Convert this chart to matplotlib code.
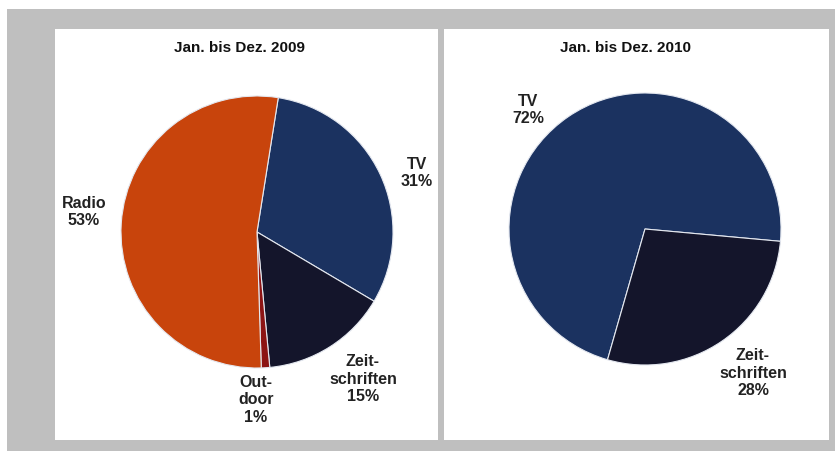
import matplotlib.pyplot as plt
from matplotlib.patches import Rectangle

# data
titles = ['Jan. bis Dez. 2009', 'Jan. bis Dez. 2010']
labels_2009 = ['TV', 'Zeit-\nschriften', 'Out-\ndoor', 'Radio']
values_2009 = [31, 15, 1, 53]
labels_2010 = ['TV', 'Zeit-\nschriften']
values_2010 = [72, 28]

colors_2009 = ['#1b3260', '#14152b', '#8c1414', '#c8440c']
colors_2010 = ['#1b3260', '#14152b']

W, H = 835, 451
fig = plt.figure(figsize=(W / 100, H / 100), dpi=100)
fig.patch.set_facecolor('white')

plt.rcParams['font.family'] = ['Liberation Sans', 'DejaVu Sans']


def px_rect(x0, y0, x1, y1, color):
    # rectangle in pixel coords measured from top-left
    fig.patches.append(Rectangle((x0 / W, 1 - y1 / H), (x1 - x0) / W, (y1 - y0) / H,
                                 transform=fig.transFigure, facecolor=color,
                                 edgecolor='none', zorder=-5))


px_rect(7, 9, 835, 451, '#bfbfbf')
px_rect(55, 29, 438, 440, 'white')
px_rect(444, 29, 829, 440, 'white')

R = 136.0


def make_pie(panel, center, values, labels, colors, start, label_pos, title, title_x):
    x0, y0, x1, y1 = panel
    cx, cy = center
    ax = fig.add_axes([x0 / W, 1 - y1 / H, (x1 - x0) / W, (y1 - y0) / H])
    ax.pie(values, colors=colors, startangle=start, counterclock=False,
           wedgeprops=dict(edgecolor='#e4e8f0', linewidth=0.8))
    ax.set_xlim((x0 - cx) / R, (x1 - cx) / R)
    ax.set_ylim((cy - y1) / R, (cy - y0) / R)
    ax.set_aspect('auto')
    ax.set_frame_on(False)
    ax.set_xticks([])
    ax.set_yticks([])
    for lab, v, (px, py) in zip(labels, values, label_pos):
        ax.text((px - cx) / R, (cy - py) / R, f'{lab}\n{v}%', ha='center', va='center',
                fontsize=11.5, fontweight='bold', color='#222222', linespacing=1.2)
    ax.text((title_x - cx) / R, (cy - 48) / R, title, ha='center', va='center',
            fontsize=11, fontweight='bold', color='#111111')


make_pie((55, 29, 438, 440), (257, 232), values_2009, labels_2009, colors_2009, 81,
         [(417, 173), (363, 379), (256, 400), (84, 212)], titles[0], 240)
make_pie((444, 29, 829, 440), (645, 229), values_2010, labels_2010, colors_2010, -106,
         [(528, 110), (753, 373)], titles[1], 625)

fig.savefig('out.png', dpi=100)
